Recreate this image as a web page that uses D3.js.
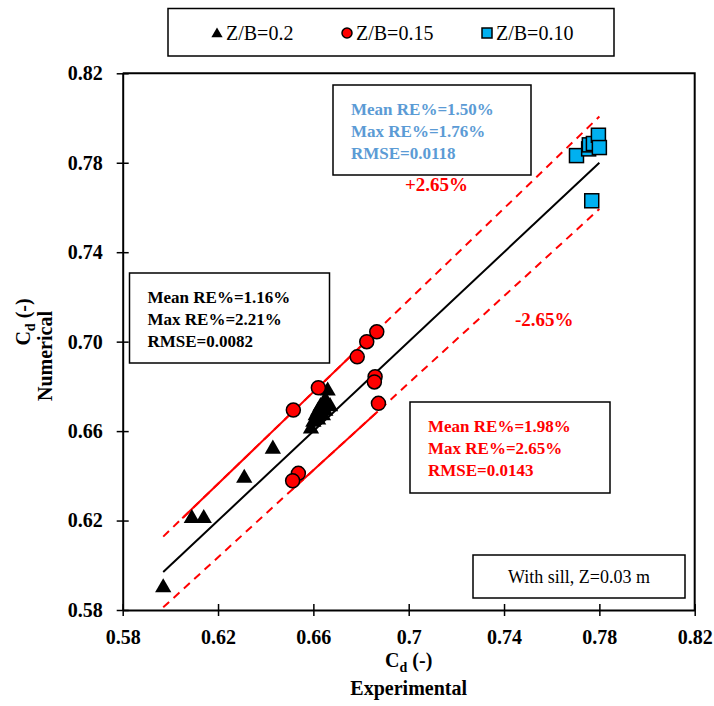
<!DOCTYPE html>
<html>
<head>
<meta charset="utf-8">
<script src="https://cdn.jsdelivr.net/npm/d3@7/dist/d3.min.js"></script>
<style>
  body { margin: 0; background: #fff; }
  svg text { font-family: "Liberation Serif", "Times New Roman", Times, serif !important; }
</style>
</head>
<body>
<div id="chart"></div>
<script>
// Werte
const tickValues = [0.58, 0.62, 0.66, 0.70, 0.74, 0.78, 0.82];
const xTickLabels = ["0.58", "0.62", "0.66", "0.7", "0.74", "0.78", "0.82"];
const yTickLabels = ["0.58", "0.62", "0.66", "0.70", "0.74", "0.78", "0.82"];

// Z/B=0.2
const triX = [0.597, 0.609, 0.614, 0.631, 0.643, 0.659, 0.660, 0.661, 0.662, 0.663, 0.665, 0.666, 0.665, 0.667, 0.662, 0.664];
const triY = [0.590, 0.621, 0.621, 0.639, 0.652, 0.661, 0.664, 0.667, 0.669, 0.671, 0.674, 0.678, 0.669, 0.671, 0.665, 0.667];
// Z/B=0.15
const circX = [0.6866, 0.6824, 0.6784, 0.6621, 0.6516, 0.6859, 0.6856, 0.6873, 0.6537, 0.6513];
const circY = [0.7044, 0.7000, 0.6932, 0.6794, 0.6694, 0.6843, 0.6820, 0.6724, 0.6411, 0.6378];
// Z/B=0.10
const sqX = [0.7704, 0.7755, 0.7758, 0.7775, 0.7796, 0.7800, 0.7768];
const sqY = [0.7832, 0.7862, 0.7880, 0.7886, 0.7923, 0.7868, 0.7630];

// 1:1 Linie und ±2.65% Band
const lineRange = [0.597, 0.780];
const bandPct = 2.65;
const upperSolidRange = [0.605, 0.688];
const lowerSolidRange = [0.651, 0.687];

const seriesNames = ["Z/B=0.2", "Z/B=0.15", "Z/B=0.10"];
const blueStats = ["Mean RE%=1.50%", "Max RE%=1.76%", "RMSE=0.0118"];
const blackStats = ["Mean RE%=1.16%", "Max RE%=2.21%", "RMSE=0.0082"];
const redStats = ["Mean RE%=1.98%", "Max RE%=2.65%", "RMSE=0.0143"];

const RED = "#ff0000";
const BLUE_FILL = "#00b0f0";
const BLUE_TEXT = "#5b9bd5";
const FONT = "'Liberation Serif', 'Times New Roman', serif";

const svg = d3.select("#chart")
    .append("svg")
    .attr("width", 714)
    .attr("height", 706)
    .attr("font-family", FONT);

const x = d3.scaleLinear().domain([0.58, 0.82]).range([122.7, 694.7]);
const y = d3.scaleLinear().domain([0.58, 0.82]).range([610, 73.3]);

// Rahmen oben/rechts
svg.append("path")
    .attr("d", `M${x(0.58)},${y(0.82)}H${x(0.82)}V${y(0.58)}`)
    .attr("fill", "none")
    .attr("stroke", "#000")
    .attr("stroke-width", 2);

// Achsen
const xAxis = svg.append("g")
    .attr("transform", `translate(0,${y(0.58)})`)
    .call(d3.axisBottom(x).tickValues(tickValues)
        .tickFormat((d, i) => xTickLabels[i]).tickSizeOuter(0).tickPadding(14));
const yAxis = svg.append("g")
    .attr("transform", `translate(${x(0.58)},0)`)
    .call(d3.axisLeft(y).tickValues(tickValues)
        .tickFormat((d, i) => yTickLabels[i]).tickSizeOuter(0).tickPadding(14));

[xAxis, yAxis].forEach(g => {
    g.attr("font-family", FONT).attr("font-size", 20);
    g.select(".domain").attr("stroke-width", 2);
    g.selectAll("text")
        .attr("font-weight", "bold")
        .attr("fill", "#000");
});
xAxis.selectAll(".tick line").attr("y1", -6).attr("y2", 6).attr("stroke-width", 1.5);
yAxis.selectAll(".tick line").attr("x1", -6).attr("x2", 6).attr("stroke-width", 1.5);

// Achsentitel
const subTitle = (g) => {
    g.append("tspan").text("C");
    g.append("tspan").attr("font-size", "14px").attr("dy", 5).text("d");
    g.append("tspan").attr("dy", -5).text(" (-)");
};
subTitle(svg.append("text")
    .attr("x", x(0.70))
    .attr("y", 667)
    .attr("text-anchor", "middle")
    .attr("font-size", "20px")
    .attr("font-weight", "bold"));
svg.append("text")
    .attr("x", x(0.70))
    .attr("y", 695)
    .attr("text-anchor", "middle")
    .attr("font-size", "20px")
    .attr("font-weight", "bold")
    .text("Experimental");

subTitle(svg.append("text")
    .attr("transform", "translate(30,322) rotate(-90)")
    .attr("text-anchor", "middle")
    .attr("font-size", "20px")
    .attr("font-weight", "bold"));
svg.append("text")
    .attr("transform", "translate(52,356) rotate(-90)")
    .attr("text-anchor", "middle")
    .attr("font-size", "20px")
    .attr("font-weight", "bold")
    .text("Numerical");

// Linien
const k = bandPct / 100;
const drawLine = (range, factor, color, dash) => {
    svg.append("line")
        .attr("x1", x(range[0]))
        .attr("y1", y(range[0] * factor))
        .attr("x2", x(range[1]))
        .attr("y2", y(range[1] * factor))
        .attr("stroke", color)
        .attr("stroke-width", 2)
        .attr("stroke-dasharray", dash);
};
drawLine(lineRange, 1 + k, RED, "8,6");
drawLine(lineRange, 1 - k, RED, "8,6");
drawLine(upperSolidRange, 1 + k, RED, null);
drawLine(lowerSolidRange, 1 - k, RED, null);
drawLine(lineRange, 1, "#000", null);

// Marker
const triangle = d3.symbol().type(d3.symbolTriangle).size(115);
svg.append("g").selectAll("path")
    .data(triX)
    .enter()
    .append("path")
    .attr("transform", (d, i) => `translate(${x(d)},${y(triY[i])})`)
    .attr("d", triangle)
    .attr("fill", "#000");

svg.append("g").selectAll("circle")
    .data(circX)
    .enter()
    .append("circle")
    .attr("cx", d => x(d))
    .attr("cy", (d, i) => y(circY[i]))
    .attr("r", 7)
    .attr("fill", RED)
    .attr("stroke", "#000")
    .attr("stroke-width", 1.5);

svg.append("g").selectAll("rect")
    .data(sqX)
    .enter()
    .append("rect")
    .attr("x", d => x(d) - 7)
    .attr("y", (d, i) => y(sqY[i]) - 7)
    .attr("width", 14)
    .attr("height", 14)
    .attr("fill", BLUE_FILL)
    .attr("stroke", "#000")
    .attr("stroke-width", 1.5);

// Textboxen mit Kennzahlen
const statBox = (x0, y0, w, h, lines, color) => {
    svg.append("rect")
        .attr("x", x0).attr("y", y0)
        .attr("width", w).attr("height", h)
        .attr("fill", "#fff")
        .attr("stroke", "#000")
        .attr("stroke-width", 1.5);
    lines.forEach((t, i) => {
        svg.append("text")
            .attr("x", x0 + 18)
            .attr("y", y0 + 30 + i * 22)
            .attr("font-size", "17px")
            .attr("font-weight", "bold")
            .attr("fill", color)
            .text(t);
    });
};
statBox(333, 85, 198, 90, blueStats, BLUE_TEXT);
statBox(129.5, 273, 200, 90, blackStats, "#000");
statBox(410, 402, 200, 91, redStats, RED);

// ±2.65% Beschriftung
svg.append("text")
    .attr("x", 405).attr("y", 191)
    .attr("font-size", "19px").attr("font-weight", "bold")
    .attr("fill", RED)
    .text(`+${bandPct.toFixed(2)}%`);
svg.append("text")
    .attr("x", 515).attr("y", 326)
    .attr("font-size", "19px").attr("font-weight", "bold")
    .attr("fill", RED)
    .text(`-${bandPct.toFixed(2)}%`);

// Hinweis unten rechts
svg.append("rect")
    .attr("x", 473).attr("y", 555)
    .attr("width", 212).attr("height", 43)
    .attr("fill", "#fff")
    .attr("stroke", "#000")
    .attr("stroke-width", 1.5);
svg.append("text")
    .attr("x", 579).attr("y", 583)
    .attr("text-anchor", "middle")
    .attr("font-size", "18px")
    .text("With sill, Z=0.03 m");

// Legende
const legend = svg.append("g");
legend.append("rect")
    .attr("x", 168).attr("y", 8.5)
    .attr("width", 446).attr("height", 47.5)
    .attr("fill", "#fff")
    .attr("stroke", "#000")
    .attr("stroke-width", 1.5);
const legendX = [217, 347, 487];
legend.append("path")
    .attr("transform", `translate(${legendX[0]},34)`)
    .attr("d", d3.symbol().type(d3.symbolTriangle).size(55))
    .attr("fill", "#000");
legend.append("circle")
    .attr("cx", legendX[1]).attr("cy", 33)
    .attr("r", 5)
    .attr("fill", RED).attr("stroke", "#000").attr("stroke-width", 1.5);
legend.append("rect")
    .attr("x", legendX[2] - 5).attr("y", 28)
    .attr("width", 10).attr("height", 10)
    .attr("fill", BLUE_FILL).attr("stroke", "#000").attr("stroke-width", 1.5);
seriesNames.forEach((name, i) => {
    legend.append("text")
        .attr("x", legendX[i] + 9)
        .attr("y", 40)
        .attr("font-size", "20px")
        .text(name);
});
</script>
</body>
</html>
